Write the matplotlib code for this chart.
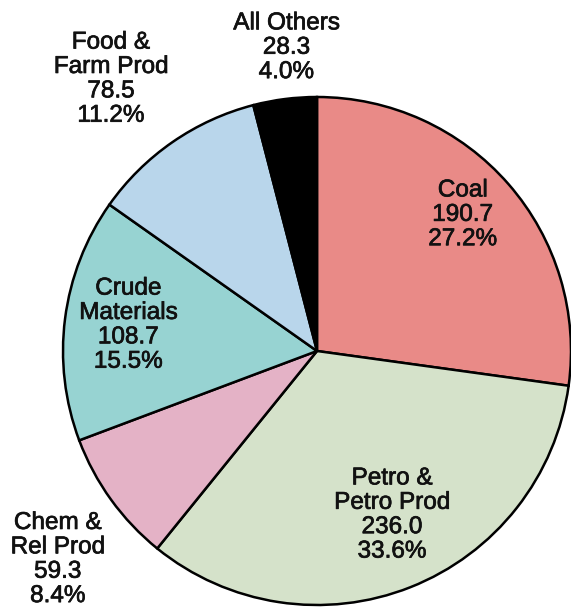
import numpy as np
import matplotlib
matplotlib.use('Agg')
import matplotlib.pyplot as plt
import matplotlib.patheffects as pe

# Datos
categories = ['Coal', 'Petro &\nPetro Prod', 'Chem &\nRel Prod', 'Crude\nMaterials',
              'Food &\nFarm Prod', 'All Others']
values = [190.7, 236.0, 59.3, 108.7, 78.5, 28.3]
percents = ['27.2%', '33.6%', '8.4%', '15.5%', '11.2%', '4.0%']

# Estilo
colors = ['#E98A87', '#D5E2CA', '#E4B2C6', '#97D3D2', '#B9D6EB', '#000000']
label_dist = [0.785, 0.71, 1.31, 0.75, 1.343, 1.20]
label_rot = [2.0, 3.0, 3.0, -0.5, 2.5, -1.5]

plt.rcParams['font.family'] = ['Liberation Sans', 'DejaVu Sans']

fig = plt.figure(figsize=(5.71, 6.11), dpi=100)
ax = fig.add_axes([0, 0, 1, 1])

cx, cy, r = 317, 260, 254

wedges, _ = ax.pie(values, colors=colors, startangle=90, counterclock=False,
                   center=(cx, cy), radius=r, frame=True,
                   wedgeprops=dict(edgecolor='black', linewidth=1.8))
ax.set_xlim(0, 571)
ax.set_ylim(0, 611)
ax.set_aspect('equal')
ax.axis('off')

for w, cat, v, p, d, s in zip(wedges, categories, values, percents, label_dist, label_rot):
    ang = np.deg2rad((w.theta1 + w.theta2) / 2 + s)
    x = cx + d * r * np.cos(ang)
    y = cy + d * r * np.sin(ang)
    t = ax.text(x, y, '{}\n{:.1f}\n{}'.format(cat, v, p), ha='center', va='center',
                fontsize=17.5, linespacing=1.14, color='#111111')
    t.set_path_effects([pe.withStroke(linewidth=0.5, foreground='#111111')])

fig.savefig('out.png', dpi=100)
